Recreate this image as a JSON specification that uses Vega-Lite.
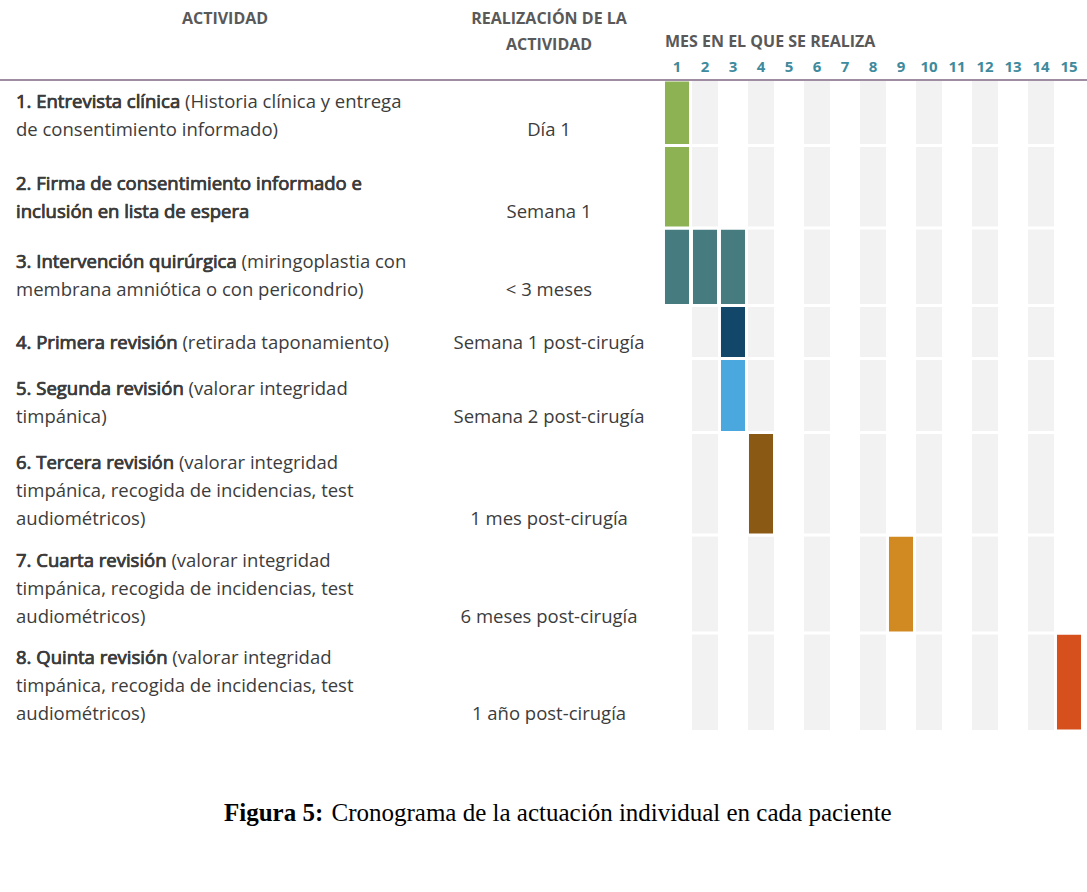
{
  "$schema": "https://vega.github.io/schema/vega-lite/v6.json",
  "width": 1087,
  "height": 650,
  "autosize": {"type": "none"},
  "padding": {"left": 0, "top": 80, "right": 0, "bottom": 162},
  "background": "white",
  "config": {"view": {"stroke": null}},
  "title": {
    "text": "Figura 5:",
    "orient": "bottom",
    "frame": "group",
    "anchor": "start",
    "dx": 224,
    "offset": -12,
    "baseline": "middle",
    "font": "Liberation Serif",
    "fontSize": 25,
    "fontWeight": "bold",
    "color": "black"
  },
  "datasets": {
    "actividades": [
      {"fila": 1, "texto": ["1. Entrevista clínica (Historia clínica y entrega", "de consentimiento informado)"], "negrita": ["1. Entrevista clínica", ""], "realizacion": "Día 1"},
      {"fila": 2, "texto": ["2. Firma de consentimiento informado e", "inclusión en lista de espera"], "negrita": ["2. Firma de consentimiento informado e", "inclusión en lista de espera"], "realizacion": "Semana 1"},
      {"fila": 3, "texto": ["3. Intervención quirúrgica (miringoplastia con", "membrana amniótica o con pericondrio)"], "negrita": ["3. Intervención quirúrgica", ""], "realizacion": "< 3 meses"},
      {"fila": 4, "texto": ["4. Primera revisión  (retirada taponamiento)"], "negrita": ["4. Primera revisión"], "realizacion": "Semana 1 post-cirugía"},
      {"fila": 5, "texto": ["5. Segunda revisión (valorar integridad", "timpánica)"], "negrita": ["5. Segunda revisión", ""], "realizacion": "Semana 2 post-cirugía"},
      {"fila": 6, "texto": ["6. Tercera revisión (valorar integridad", "timpánica, recogida de incidencias, test", "audiométricos)"], "negrita": ["6. Tercera revisión", "", ""], "realizacion": "1 mes post-cirugía"},
      {"fila": 7, "texto": ["7. Cuarta revisión (valorar integridad", "timpánica, recogida de incidencias, test", "audiométricos)"], "negrita": ["7. Cuarta revisión", "", ""], "realizacion": "6 meses post-cirugía"},
      {"fila": 8, "texto": ["8. Quinta revisión (valorar integridad", "timpánica, recogida de incidencias, test", "audiométricos)"], "negrita": ["8. Quinta revisión", "", ""], "realizacion": "1 año post-cirugía"}
    ],
    "celdas": [
      {"fila": 1, "mes": 1},
      {"fila": 2, "mes": 1},
      {"fila": 3, "mes": 1},
      {"fila": 3, "mes": 2},
      {"fila": 3, "mes": 3},
      {"fila": 4, "mes": 3},
      {"fila": 5, "mes": 3},
      {"fila": 6, "mes": 4},
      {"fila": 7, "mes": 9},
      {"fila": 8, "mes": 15}
    ],
    "meses": [
      {"mes": 1}, {"mes": 2}, {"mes": 3}, {"mes": 4}, {"mes": 5}, {"mes": 6}, {"mes": 7}, {"mes": 8},
      {"mes": 9}, {"mes": 10}, {"mes": 11}, {"mes": 12}, {"mes": 13}, {"mes": 14}, {"mes": 15}
    ],
    "encabezados": [
      {"columna": "ACTIVIDAD", "lineas": ["ACTIVIDAD"]},
      {"columna": "REALIZACIÓN DE LA ACTIVIDAD", "lineas": ["REALIZACIÓN  DE LA", "ACTIVIDAD"]},
      {"columna": "MES EN EL QUE SE REALIZA", "lineas": ["MES EN EL QUE SE REALIZA"]}
    ]
  },
  "layer": [
    {
      "data": {"name": "meses"},
      "transform": [{"filter": "datum.mes % 2 === 0"}],
      "mark": {"type": "rect", "color": "#f2f2f2"},
      "encoding": {
        "x": {
          "field": "mes",
          "type": "ordinal",
          "scale": {"domain": [1, 2, 3, 4, 5, 6, 7, 8, 9, 10, 11, 12, 13, 14, 15], "range": [663, 1083], "paddingInner": 0.07, "paddingOuter": 0.035},
          "axis": {
            "orient": "top",
            "title": "Cronograma de la actuación individual en cada paciente",
            "titleX": 331,
            "titleY": 732,
            "titleAlign": "left",
            "titleBaseline": "middle",
            "titleAngle": 0,
            "titleFont": "Liberation Serif",
            "titleFontSize": 25,
            "titleFontWeight": "normal",
            "titleColor": "black",
            "labelFont": "Open Sans",
            "labelFontSize": 15,
            "labelFontWeight": "bold",
            "labelColor": "#3f8a9c",
            "labelAngle": 0,
            "labelPadding": 6,
            "labelOverlap": false,
            "ticks": false,
            "domain": false,
            "grid": false
          }
        },
        "y": {
          "datum": 1,
          "type": "quantitative",
          "scale": {"domain": [0, 1, 2, 3, 4, 5, 6, 7, 8, 9], "range": [-80, 0, 65.5, 148, 225.5, 278.5, 352.5, 455, 553, 650], "nice": false, "zero": false},
          "axis": null
        },
        "y2": {"datum": 9}
      }
    },
    {
      "data": {"name": "celdas"},
      "mark": {"type": "rect", "stroke": "white", "strokeWidth": 2},
      "encoding": {
        "x": {
          "field": "mes",
          "type": "ordinal",
          "scale": {"domain": [1, 2, 3, 4, 5, 6, 7, 8, 9, 10, 11, 12, 13, 14, 15], "range": [663, 1083], "paddingInner": 0.07, "paddingOuter": 0.035},
          "axis": null
        },
        "y": {
          "field": "fila",
          "type": "quantitative",
          "bin": {"extent": [1, 9], "step": 1, "nice": false},
          "scale": {"domain": [0, 1, 2, 3, 4, 5, 6, 7, 8, 9], "range": [-80, 0, 65.5, 148, 225.5, 278.5, 352.5, 455, 553, 650], "nice": false, "zero": false},
          "axis": null
        },
        "color": {
          "field": "fila",
          "type": "nominal",
          "scale": {"domain": [1, 2, 3, 4, 5, 6, 7, 8], "range": ["#8db254", "#8db254", "#467b7f", "#12476a", "#4aa8df", "#8a5a14", "#d18a22", "#d5501c"]},
          "legend": null
        }
      }
    },
    {
      "data": {"name": "actividades"},
      "mark": {"type": "rule"},
      "encoding": {
        "y": {
          "field": "fila",
          "type": "quantitative",
          "scale": {"domain": [0, 1, 2, 3, 4, 5, 6, 7, 8, 9], "range": [-80, 0, 65.5, 148, 225.5, 278.5, 352.5, 455, 553, 650], "nice": false, "zero": false},
          "axis": null
        },
        "color": {"condition": {"test": "datum.fila === 1", "value": "#9f8ca3"}, "value": "white"},
        "strokeWidth": {"condition": {"test": "datum.fila === 1", "value": 2}, "value": 3}
      }
    },
    {
      "data": {"name": "encabezados"},
      "transform": [{"filter": "datum.columna === 'MES EN EL QUE SE REALIZA'"}],
      "mark": {"type": "text", "align": "left", "baseline": "top", "dx": -12, "dy": 34, "font": "Open Sans", "fontSize": 16, "fontWeight": "bold", "color": "#595959"},
      "encoding": {
        "x": {
          "datum": 1,
          "type": "ordinal",
          "scale": {"domain": [1, 2, 3, 4, 5, 6, 7, 8, 9, 10, 11, 12, 13, 14, 15], "range": [663, 1083], "paddingInner": 0.07, "paddingOuter": 0.035},
          "axis": null
        },
        "y": {
          "datum": 0,
          "type": "quantitative",
          "scale": {"domain": [0, 1, 2, 3, 4, 5, 6, 7, 8, 9], "range": [-80, 0, 65.5, 148, 225.5, 278.5, 352.5, 455, 553, 650], "nice": false, "zero": false},
          "axis": null
        },
        "text": {"field": "lineas", "type": "nominal"}
      }
    },
    {
      "layer": [
        {
          "data": {"name": "actividades"},
          "mark": {"type": "text", "align": "left", "baseline": "bottom", "dx": -209, "dy": {"expr": "-6 - 28 * (length(datum.texto) - 1)"}, "font": "Open Sans", "fontSize": 18.5, "lineHeight": 28, "color": "#3c3c3c"},
          "encoding": {
            "x": {
              "datum": "ACTIVIDAD",
              "type": "nominal",
              "scale": {"type": "point", "domain": ["ACTIVIDAD", "REALIZACIÓN DE LA ACTIVIDAD"], "range": [225, 549], "padding": 0},
              "axis": null
            },
            "y": {
              "field": "fila",
              "type": "quantitative",
              "bin": {"extent": [1, 9], "step": 1, "nice": false},
              "bandPosition": 1,
              "scale": {"domain": [0, 1, 2, 3, 4, 5, 6, 7, 8, 9], "range": [-80, 0, 65.5, 148, 225.5, 278.5, 352.5, 455, 553, 650], "nice": false, "zero": false},
              "axis": null
            },
            "text": {"field": "texto", "type": "nominal"}
          }
        },
        {
          "data": {"name": "actividades"},
          "mark": {"type": "text", "align": "left", "baseline": "bottom", "dx": -209, "dy": {"expr": "-6 - 28 * (length(datum.texto) - 1)"}, "font": "Open Sans", "fontSize": 18.5, "lineHeight": 28, "color": "#3c3c3c", "stroke": "#3c3c3c", "strokeWidth": 0.7},
          "encoding": {
            "x": {"datum": "ACTIVIDAD", "type": "nominal", "axis": null},
            "y": {
              "field": "fila",
              "type": "quantitative",
              "bin": {"extent": [1, 9], "step": 1, "nice": false},
              "bandPosition": 1,
              "scale": {"domain": [0, 1, 2, 3, 4, 5, 6, 7, 8, 9], "range": [-80, 0, 65.5, 148, 225.5, 278.5, 352.5, 455, 553, 650], "nice": false, "zero": false},
              "axis": null
            },
            "text": {"field": "negrita", "type": "nominal"}
          }
        },
        {
          "data": {"name": "actividades"},
          "mark": {"type": "text", "align": "center", "baseline": "bottom", "dy": -6, "font": "Open Sans", "fontSize": 18.5, "lineHeight": 28, "color": "#3c3c3c"},
          "encoding": {
            "x": {"datum": "REALIZACIÓN DE LA ACTIVIDAD", "type": "nominal", "axis": null},
            "y": {
              "field": "fila",
              "type": "quantitative",
              "bin": {"extent": [1, 9], "step": 1, "nice": false},
              "bandPosition": 1,
              "scale": {"domain": [0, 1, 2, 3, 4, 5, 6, 7, 8, 9], "range": [-80, 0, 65.5, 148, 225.5, 278.5, 352.5, 455, 553, 650], "nice": false, "zero": false},
              "axis": null
            },
            "text": {"field": "realizacion", "type": "nominal"}
          }
        },
        {
          "data": {"name": "encabezados"},
          "transform": [{"filter": "datum.columna !== 'MES EN EL QUE SE REALIZA'"}],
          "mark": {"type": "text", "align": "center", "baseline": "top", "dy": 11, "font": "Open Sans", "fontSize": 16, "fontWeight": "bold", "lineHeight": 26, "color": "#595959"},
          "encoding": {
            "x": {"field": "columna", "type": "nominal", "axis": null},
            "y": {
              "datum": 0,
              "type": "quantitative",
              "scale": {"domain": [0, 1, 2, 3, 4, 5, 6, 7, 8, 9], "range": [-80, 0, 65.5, 148, 225.5, 278.5, 352.5, 455, 553, 650], "nice": false, "zero": false},
              "axis": null
            },
            "text": {"field": "lineas", "type": "nominal"}
          }
        }
      ]
    }
  ],
  "resolve": {"scale": {"x": "independent"}}
}
